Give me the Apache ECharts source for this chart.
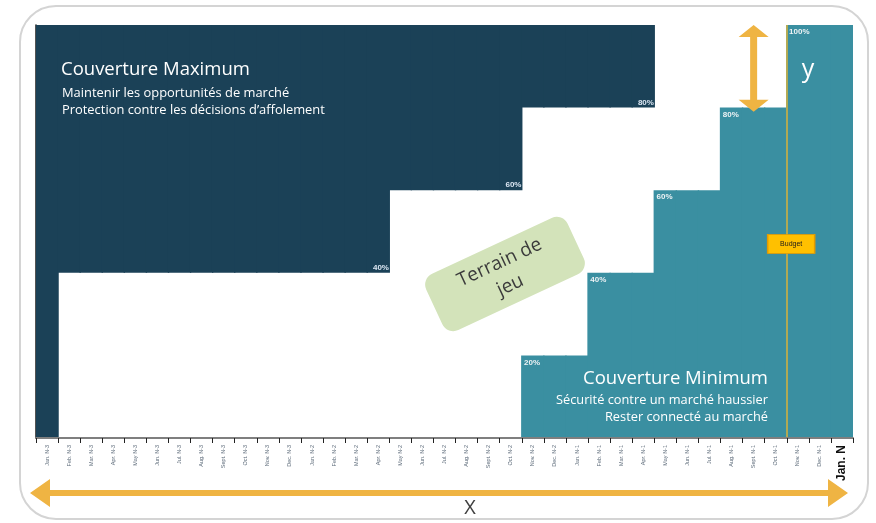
<!DOCTYPE html>
<html><head><meta charset="utf-8">
<script src="https://cdn.jsdelivr.net/npm/echarts@6/dist/echarts.min.js"></script>
<style>html,body{margin:0;padding:0;background:#fff}#c{width:876px;height:523px}</style>
</head><body><div id="c"></div>
<script>
// ---- Data ----
const categories = [
  'Jan. N-3','Feb. N-3','Mar. N-3','Apr. N-3','May N-3','Jun. N-3','Jul. N-3','Aug. N-3','Sept. N-3','Oct. N-3','Nov. N-3','Dec. N-3',
  'Jan. N-2','Feb. N-2','Mar. N-2','Apr. N-2','May N-2','Jun. N-2','Jul. N-2','Aug. N-2','Sept. N-2','Oct. N-2','Nov. N-2','Dec. N-2',
  'Jan. N-1','Feb. N-1','Mar. N-1','Apr. N-1','May N-1','Jun. N-1','Jul. N-1','Aug. N-1','Sept. N-1','Oct. N-1','Nov. N-1','Dec. N-1',
  'Jan. N'
];
// minimum hedge (% of budget) per month
const minCoverage = [
  0,0,0,0,0,0,0,0,0,0,0,0,
  0,0,0,0,0,0,0,0,0,0,20,20,
  20,40,40,40,60,60,60,80,80,80,100,100,
  100
];
// maximum hedge (% of budget) per month
const maxCoverage = [
  0,40,40,40,40,40,40,40,40,40,40,40,
  40,40,40,40,60,60,60,60,60,60,80,80,
  80,80,80,80,100,100,100,100,100,100,100,100,
  100
];
const budgetMonth = 'Nov. N-1';
const yArrowMonth = 'Sept. N-1';

// ---- Derived ----
const gapSeries = maxCoverage.map((m, i) => m - minCoverage[i]);
const darkSeries = maxCoverage.map(m => 100 - m);
const NAVY = '#1B4157';
const TEAL = '#3A8FA1';
const GOLD = '#EFB443';
const budgetIdx = categories.indexOf(budgetMonth);
const arrowIdx = categories.indexOf(yArrowMonth);

const chart = echarts.init(document.getElementById('c'));

const option = {
  animation: false,
  grid: { left: 36, right: 23, top: 25, bottom: 85 },
  xAxis: [{
    type: 'category',
    data: categories,
    z: 10,
    axisLine: { lineStyle: { color: '#7f7f7f', width: 2 } },
    axisTick: { show: true, length: 5, lineStyle: { color: '#222', width: 1 } },
    axisLabel: {
      interval: 0, rotate: 90, fontSize: 5.5, color: '#5d6b7a', margin: 7,
      fontFamily: 'Liberation Sans',
      formatter: (v, i) => i === categories.length - 1 ? '{b|' + v + '}' : v,
      rich: { b: { fontSize: 12, fontWeight: 'bold', color: '#111', fontFamily: 'Liberation Sans' } }
    }
  }, {
    type: 'value', min: 0, max: categories.length, show: false
  }],
  yAxis: [{
    type: 'value', min: 0, max: 100, position: 'right',
    axisLine: { show: true, lineStyle: { color: '#1a1a1a', width: 1.5 } },
    axisTick: { show: false }, axisLabel: { show: false }, splitLine: { show: false }
  }],
  series: [{
    name: 'Couverture Minimum',
    type: 'bar', stack: 'cov', barWidth: '106%',
    data: minCoverage,
    itemStyle: { color: TEAL },
    label: {
      show: true, position: 'insideTopLeft', distance: 3,
      fontSize: 8, fontWeight: 'bold', color: '#eef3f5', fontFamily: 'Liberation Sans',
      formatter: p => {
        const i = p.dataIndex;
        return (minCoverage[i] > 0 && (i === 0 || minCoverage[i] !== minCoverage[i - 1])) ? minCoverage[i] + '%' : '';
      }
    }
  }, {
    name: 'Terrain de jeu',
    type: 'bar', stack: 'cov', barWidth: '106%',
    data: gapSeries,
    itemStyle: { color: 'rgba(0,0,0,0)' }
  }, {
    name: 'Couverture Maximum',
    type: 'bar', stack: 'cov', barWidth: '106%',
    data: darkSeries,
    itemStyle: { color: NAVY },
    label: {
      show: true, position: 'insideBottomRight', distance: 1,
      fontSize: 8, fontWeight: 'bold', color: '#dbe6f2', fontFamily: 'Liberation Sans',
      formatter: p => {
        const i = p.dataIndex;
        return (i > 0 && maxCoverage[i] < 100 && i < maxCoverage.length - 1 && maxCoverage[i] !== maxCoverage[i + 1]) ? maxCoverage[i] + '%' : '';
      }
    }
  }, {
    name: 'Budget',
    type: 'scatter', xAxisIndex: 1, yAxisIndex: 0,
    data: [[budgetIdx, 0]], symbolSize: 0, silent: true,
    markLine: {
      silent: true, symbol: ['none', 'none'],
      lineStyle: { color: '#D9B23A', width: 1.5, type: 'solid' },
      label: { show: false },
      data: [{ xAxis: budgetIdx }]
    },
    markPoint: {
      silent: true,
      symbol: 'rect', symbolSize: [47, 19],
      itemStyle: { color: '#FFC000', borderColor: '#E39B00', borderWidth: 1 },
      label: { show: true, formatter: 'Budget', color: '#1a1a1a', fontSize: 7, fontFamily: 'Liberation Sans' },
      data: [{ coord: [budgetIdx + 0.2, 47] }]
    }
  }]
};
chart.setOption(option);

// ---- Annotations anchored to the scales ----
const pTop = chart.convertToPixel({ xAxisIndex: 1, yAxisIndex: 0 }, [arrowIdx + 0.5, 100]);
const pBot = chart.convertToPixel({ xAxisIndex: 1, yAxisIndex: 0 }, [arrowIdx + 0.5, 79]);
function vArrow(cx, y1, y2, hw, hh, sw) {
  return [[cx, y1], [cx + hw, y1 + hh], [cx + sw, y1 + hh], [cx + sw, y2 - hh], [cx + hw, y2 - hh], [cx, y2],
          [cx - hw, y2 - hh], [cx - sw, y2 - hh], [cx - sw, y1 + hh], [cx - hw, y1 + hh]];
}
function hArrow(x1, x2, cy, hw, hh, sw) {
  return [[x1, cy], [x1 + hh, cy - hw], [x1 + hh, cy - sw], [x2 - hh, cy - sw], [x2 - hh, cy - hw], [x2, cy],
          [x2 - hh, cy + hw], [x2 - hh, cy + sw], [x1 + hh, cy + sw], [x1 + hh, cy + hw]];
}
const FONT = '"Open Sans"';
chart.setOption({
  graphic: [
    { type: 'rect', z: 0, silent: true, shape: { x: 20, y: 6, width: 848, height: 513, r: 36 },
      style: { fill: 'none', stroke: '#d4d4d4', lineWidth: 2 } },
    { type: 'text', z: 100, left: 61, top: 60, style: { text: 'Couverture Maximum', fill: '#fff', font: '18.5px ' + FONT } },
    { type: 'text', z: 100, left: 62, top: 87, style: { text: 'Maintenir les opportunités de marché', fill: '#fff', font: '12.9px ' + FONT } },
    { type: 'text', z: 100, left: 62, top: 104, style: { text: 'Protection contre les décisions d’affolement', fill: '#fff', font: '12.9px ' + FONT } },
    { type: 'text', z: 100, x: 768, y: 369, style: { text: 'Couverture Minimum', fill: '#fff', font: '18.5px ' + FONT, align: 'right' } },
    { type: 'text', z: 100, x: 768, y: 394, style: { text: 'Sécurité contre un marché haussier', fill: '#fff', font: '12.8px ' + FONT, align: 'right' } },
    { type: 'text', z: 100, x: 768, y: 411, style: { text: 'Rester connecté au marché', fill: '#fff', font: '12.8px ' + FONT, align: 'right' } },
    { type: 'group', z: 100, x: 505, y: 274, rotation: 25 * Math.PI / 180, children: [
      { type: 'rect', shape: { x: -78, y: -31, width: 156, height: 62, r: 12 }, style: { fill: '#D3E3BA' } },
      { type: 'text', style: { text: 'Terrain de\njeu', x: 0, y: 0, align: 'center', verticalAlign: 'middle', fill: '#3b3b3b', font: '19px ' + FONT, lineHeight: 25 } }
    ] },
    { type: 'polygon', z: 100, silent: true, shape: { points: vArrow(pTop[0], pTop[1], pBot[1], 15, 12, 3.5) }, style: { fill: GOLD } },
    { type: 'text', z: 100, x: 808, y: 70, style: { text: 'y', fill: '#fff', font: '25px ' + FONT, align: 'center', verticalAlign: 'middle' } },
    { type: 'polygon', z: 100, silent: true, shape: { points: hArrow(30, 848, 493, 14, 20, 3) }, style: { fill: GOLD } },
    { type: 'text', z: 100, x: 470, y: 508, style: { text: 'X', fill: '#404040', font: '20px ' + FONT, align: 'center', verticalAlign: 'middle' } }
  ]
});
</script>
</body></html>
